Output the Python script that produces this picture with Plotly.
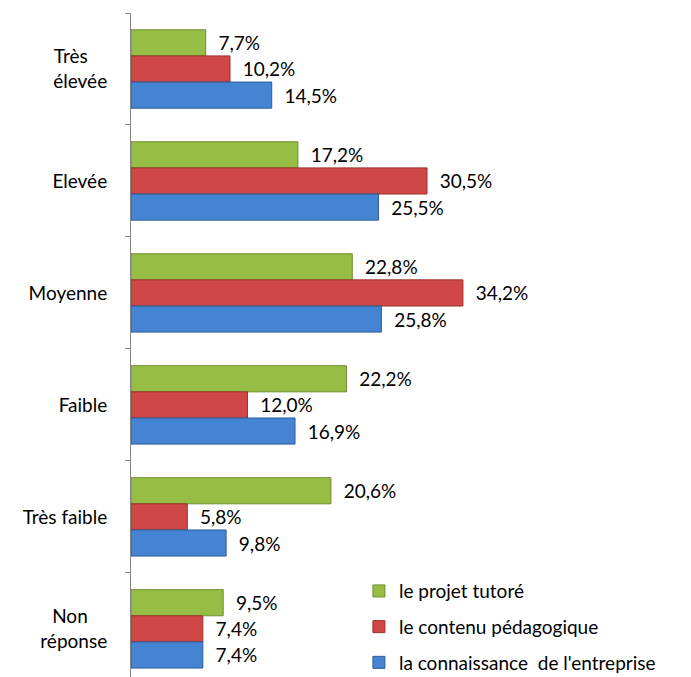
import plotly.graph_objects as go

categories = ["Très élevée", "Elevée", "Moyenne", "Faible", "Très faible", "Non réponse"]
tick_labels = ["Très\u00a0\u00a0\u00a0\u00a0<br>élevée", "Elevée", "Moyenne", "Faible", "Très faible",
               "Non\u00a0\u00a0\u00a0\u00a0<br>réponse"]
series_names = ["le projet tutoré", "le contenu pédagogique", "la connaissance  de l'entreprise"]
projet = [7.7, 17.2, 22.8, 22.2, 20.6, 9.5]
contenu = [10.2, 30.5, 34.2, 12.0, 5.8, 7.4]
connaissance = [14.5, 25.5, 25.8, 16.9, 9.8, 7.4]
colors = ["#96BE45", "#D04846", "#4584D2"]
line_colors = ["#6E8E2E", "#9A2F2D", "#2C5D99"]

fig = go.Figure()
for name, vals, c, lc in zip(series_names, [projet, contenu, connaissance], colors, line_colors):
    fig.add_trace(go.Bar(
        y=categories, x=vals, orientation="h", name=name,
        marker=dict(color=c, line=dict(color=lc, width=1)),
        text=["\u00a0\u00a0" + f"{v:.1f}".replace(".", ",") + "%" for v in vals],
        textposition="outside", cliponaxis=False,
        textfont=dict(family="Lato", size=19, color="#000000"),
        legendgroup=name,
    ))

fig.update_layout(
    width=683, height=669,
    margin=dict(l=123, r=0, t=5, b=0, autoexpand=False),
    paper_bgcolor="white", plot_bgcolor="white",
    barmode="group", bargap=0.3, bargroupgap=0,
    font=dict(family="Lato", size=19, color="#000000"),
    legend=dict(x=0.407, y=0.158, xanchor="left", yanchor="top",
                font=dict(family="Lato", size=19, color="#000000"),
                tracegroupgap=8, bgcolor="rgba(0,0,0,0)"),
    xaxis=dict(range=[0, 57.7], visible=False, showgrid=False, zeroline=False, automargin=False),
    yaxis=dict(range=[5.43, -0.5], tickmode="array", tickvals=categories, ticktext=tick_labels,
               tickson="boundaries", ticks="outside", ticklen=5, tickcolor="#868686",
               showline=True, linecolor="#868686", linewidth=1, showgrid=False,
               ticklabelstandoff=19, automargin=False,
               tickfont=dict(family="Lato", size=19, color="#000000")),
)

fig.write_html("out.html")
